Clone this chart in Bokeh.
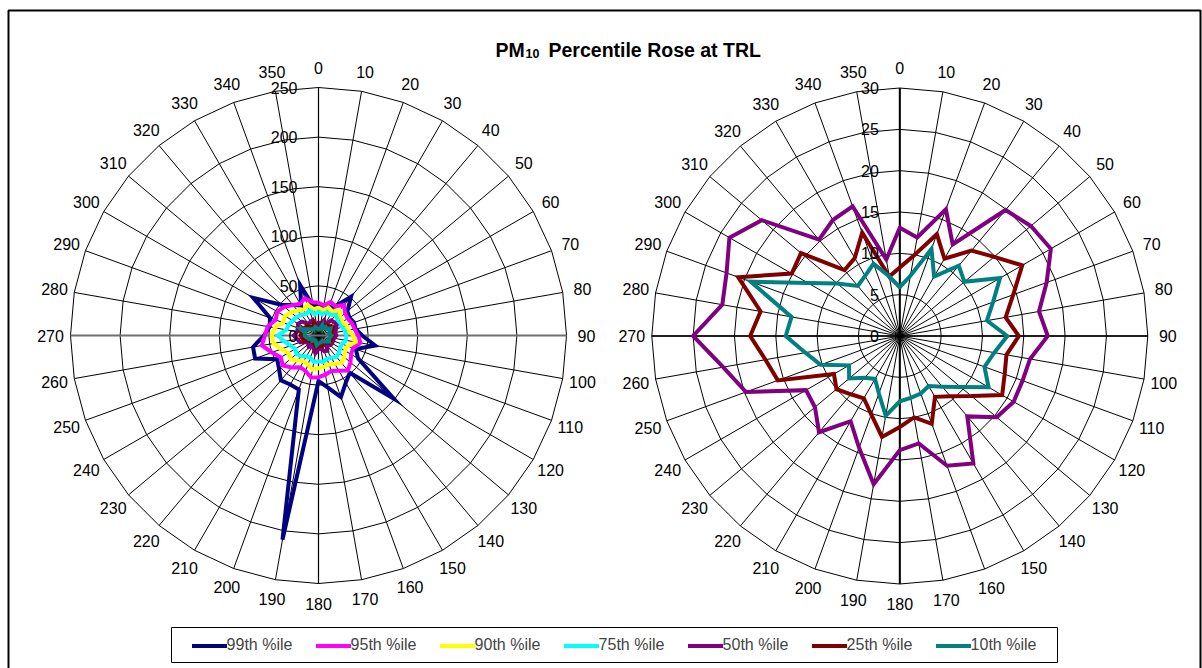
import numpy as np
from bokeh.plotting import figure
from bokeh.models import Range1d, Legend, LegendItem
from bokeh.core.properties import value
from bokeh.embed import file_html
from bokeh.resources import INLINE

# Wind direction sectors (degrees clockwise from north)
directions = list(range(0, 360, 10))

# PM10 percentile concentrations by wind direction
p99 = [32, 28, 30, 34, 51, 38, 36, 38, 38, 44, 58, 40, 46, 99, 49, 55, 66, 53,
       46, 209, 58, 57, 59, 52, 48, 68, 67, 55, 50, 52, 76, 48, 40, 35, 54, 30]
p95 = [33, 31, 36, 34, 40, 35, 34, 36, 37, 40, 43, 37, 38, 42, 46, 41, 38, 40,
       42, 43, 38, 37, 42, 47, 44, 50, 58, 54, 52, 46, 48, 45, 40, 37, 40, 34]
p90 = [28, 26, 30, 28, 33, 29, 28, 30, 31, 35, 38, 31, 31, 34, 36, 33, 31, 32,
       33, 35, 31, 30, 33, 37, 35, 40, 46, 47, 45, 38, 39, 36, 33, 30, 33, 27]
p75 = [24, 22, 25, 24, 27, 25, 24, 25, 27, 28, 28, 25, 25, 27, 28, 26, 25, 27,
       26, 27, 24, 24, 27, 29, 27, 30, 35, 41, 33, 32, 30, 29, 27, 25, 27, 22]
p50 = [13.1, 12.1, 16.3, 12.8, 19.9, 20.7, 21.1, 18.9, 17.1, 17.9, 16.0, 15.8,
       15.9, 15.3, 12.7, 17.8, 16.7, 13.2, 13.8, 18.2, 14.4, 11.9, 15.2, 13.4,
       13.1, 19.8, 21.7, 25.0, 21.8, 22.3, 23.8, 21.8, 15.2, 16.2, 16.7, 9.4]
p25 = [8.3, 9.9, 13.1, 10.8, 13.5, 14.9, 17.1, 14.6, 13.0, 14.4, 13.1, 13.5,
       14.3, 11.3, 9.5, 8.5, 11.3, 10.0, 11.0, 12.4, 10.1, 8.7, 9.2, 10.0,
       9.2, 15.7, 16.5, 18.1, 17.1, 20.8, 15.1, 15.6, 10.4, 10.9, 13.3, 7.3]
p10 = [5.9, 7.4, 11.2, 8.3, 11.1, 10.2, 14.0, 12.0, 10.7, 13.0, 11.6, 10.9,
       12.4, 9.6, 8.0, 7.0, 7.4, 7.6, 7.9, 9.8, 7.4, 6.0, 6.6, 8.0,
       7.1, 10.2, 11.6, 13.8, 13.3, 19.2, 12.8, 9.9, 7.9, 8.4, 9.3, 7.3]

series_names = ["99th %ile", "95th %ile", "90th %ile", "75th %ile",
                "50th %ile", "25th %ile", "10th %ile"]
series_values = [p99, p95, p90, p75, p50, p25, p10]
series_colors = ["#000080", "#FF00FF", "#FFFF00", "#00FFFF",
                 "#800080", "#800000", "#008080"]

left_ticks = [0, 50, 100, 150, 200, 250]
right_ticks = [0, 5, 10, 15, 20, 25, 30]

W, H = 1202, 668
FONT_NAME = "Liberation Sans"
FONT = value(FONT_NAME)

p = figure(width=W, height=H, x_range=Range1d(0, W), y_range=Range1d(H, 0),
           output_backend="svg", toolbar_location=None, min_border=0,
           x_axis_location=None, y_axis_location=None)
p.grid.visible = False
p.outline_line_color = None
p.background_fill_color = "white"
p.border_fill_color = "white"

# outer frame
p.line([8, 8, 1200, 1200], [H + 5, 10, 10, H + 5], line_color="black", line_width=2)


def polar(cx, cy, scale, vals, dirs):
    th = np.deg2rad(np.asarray(dirs, dtype=float))
    r = np.asarray(vals, dtype=float) * scale
    return cx + r * np.sin(th), cy - r * np.cos(th)


def rose_frame(cx, cy, R, ticks, v_color, v_width, h_color, h_width):
    vmax = ticks[-1]
    scale = R / vmax
    closed = directions + [directions[0]]
    xs, ys = [], []
    for t in ticks[1:]:
        x, y = polar(cx, cy, scale, [t] * len(closed), closed)
        xs.append(list(x))
        ys.append(list(y))
    p.multi_line(xs, ys, line_color="black", line_width=1)
    ex, ey = polar(cx, cy, scale, [vmax] * len(directions), directions)
    p.multi_line([[cx, x] for x in ex], [[cy, y] for y in ey],
                 line_color="black", line_width=1)
    p.line([cx, cx], [cy - R, cy + R], line_color=v_color, line_width=v_width)
    p.line([cx - R, cx + R], [cy, cy], line_color=h_color, line_width=h_width)
    return scale


def rose_labels(cx, cy, R, ticks, scale):
    p.text(x=[cx - 21] * len(ticks), y=[cy - t * scale for t in ticks],
           text=[str(t) for t in ticks], text_font=FONT, text_font_size="16px",
           text_align="right", text_baseline="middle", text_color="black")
    lx, ly = polar(cx, cy, 1.0, [R + 20] * len(directions), directions)
    p.text(x=list(lx), y=list(ly), text=[str(d) for d in directions],
           text_font=FONT, text_font_size="16px", text_align="center",
           text_baseline="middle", text_color="black")


def draw_series(cx, cy, scale, vals, color):
    closed_d = directions + [directions[0]]
    closed_v = list(vals) + [vals[0]]
    x, y = polar(cx, cy, scale, closed_v, closed_d)
    return p.line(list(x), list(y), line_color=color, line_width=4,
                  line_join="miter", line_cap="round")


R = 248
# left rose: all percentiles
LCX, LCY = 318, 335
ls = rose_frame(LCX, LCY, R, left_ticks, "black", 1.2, "#707070", 2)
left_renderers = [draw_series(LCX, LCY, ls, v, c)
                  for v, c in zip(series_values, series_colors)]
rose_labels(LCX, LCY, R, left_ticks, ls)

# right rose: lower percentiles on an expanded scale
RCX, RCY = 899.3, 335.5
rs = rose_frame(RCX, RCY, R, right_ticks, "black", 2, "black", 1.5)
for v, c in zip(series_values[4:], series_colors[4:]):
    draw_series(RCX, RCY, rs, v, c)
rose_labels(RCX, RCY, R, right_ticks, rs)

# title with subscript
p.text(x=[495], y=[49], text=["PM"], text_font=FONT, text_font_style="bold",
       text_font_size="19.5px", text_align="left", text_baseline="alphabetic")
p.text(x=[525], y=[53], text=["10"], text_font=FONT, text_font_style="bold",
       text_font_size="12.5px", text_align="left", text_baseline="alphabetic")
p.text(x=[548], y=[49], text=["Percentile Rose at TRL"], text_font=FONT,
       text_font_style="bold", text_font_size="19.5px", text_align="left",
       text_baseline="alphabetic")

# legend box
p.line([171, 1057, 1057, 171, 171], [627, 627, 662, 662, 627],
       line_color="black", line_width=1)
legend = Legend(
    items=[LegendItem(label=n, renderers=[r]) for n, r in zip(series_names, left_renderers)],
    orientation="horizontal", location=(191.6, 13.5), margin=0, padding=0,
    glyph_width=35, glyph_height=19, label_height=19, label_width=66,
    label_standoff=0, spacing=23, label_text_font=FONT_NAME,
    label_text_font_size="16px", border_line_color=None,
    background_fill_alpha=0.0, click_policy="none")
p.add_layout(legend)

open("out.html", "w").write(file_html(p, INLINE))
